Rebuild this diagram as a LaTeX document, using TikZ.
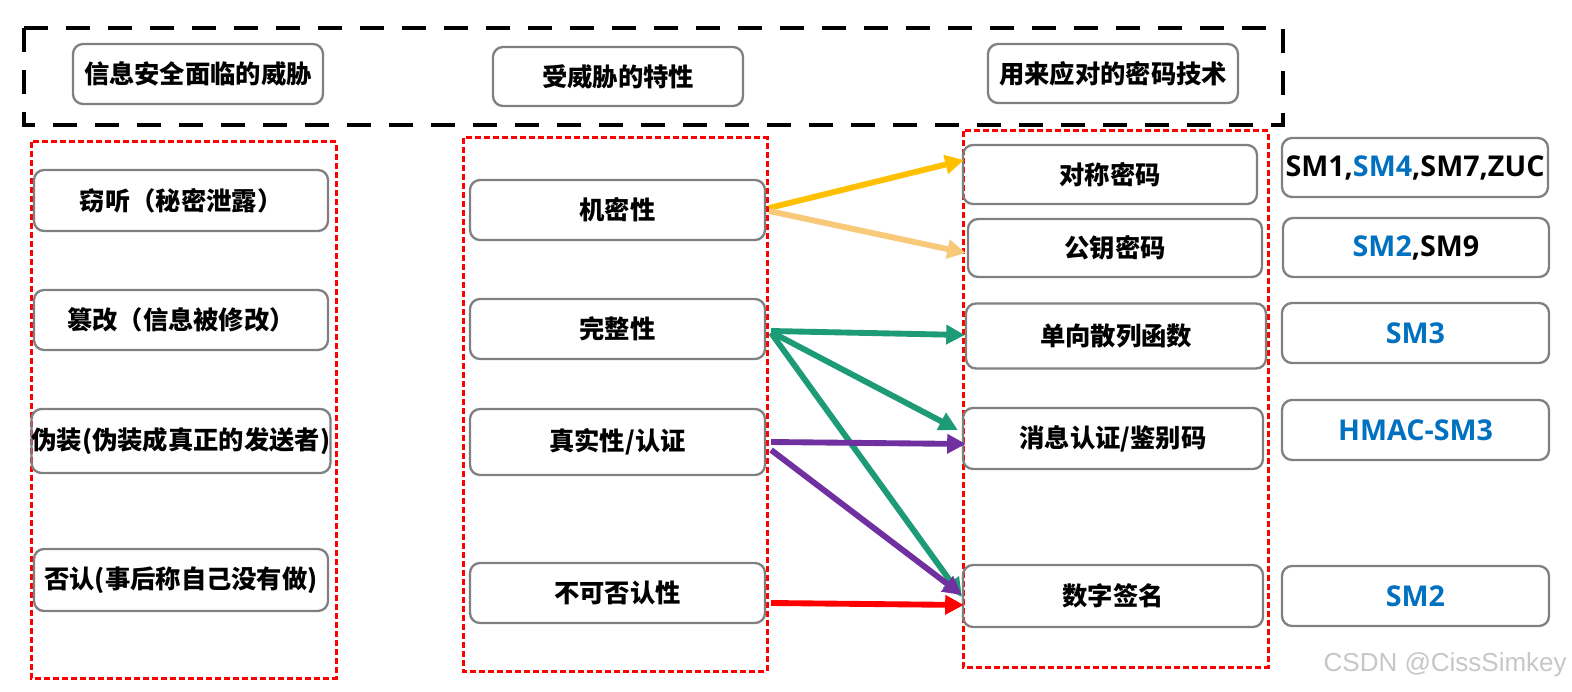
\documentclass[tikz,border=0pt]{standalone}
\usepackage{fontspec}
\setmainfont{Noto Sans CJK SC}
\newfontfamily\smfont{Open Sans}
\newfontfamily\wmfont{Liberation Sans}
\usetikzlibrary{arrows.meta,calc}
\definecolor{boxgray}{HTML}{808080}
\definecolor{smblue}{HTML}{0070C0}
\definecolor{arryellow}{HTML}{FFC000}
\definecolor{arrorange}{HTML}{F9C97A}
\definecolor{arrgreen}{HTML}{1D9B76}
\definecolor{arrpurple}{HTML}{7030A0}
\definecolor{arrred}{HTML}{FF0000}
\newlength\pxu
\setlength\pxu{0.75pt}
\tikzset{
  rbox/.style={draw=boxgray, line width=2.3\pxu, rounded corners=10\pxu, inner sep=0pt,
    font=\fontsize{19}{21}\selectfont\bfseries, text=black},
  smbox/.style={rbox, font=\smfont\fontsize{21.5}{24}\selectfont\bfseries},
  reddash/.style={draw=red, line width=3\pxu, dash pattern=on 6\pxu off 3\pxu},
  blackdash/.style={draw=black, line width=4.5\pxu, dash pattern=on 24\pxu off 18\pxu},
  arr/.style={line width=4.4pt, -{Triangle[length=14pt,width=14pt]}},
}
\begin{document}
\begin{tikzpicture}[x=0.75pt,y=-0.75pt]
\useasboundingbox (0,0) rectangle (1572,692);
\fill[white] (0,0) rectangle (1572,692);

% header dashed frame
\draw[blackdash] (24,28) rectangle (1283,125);

% red dashed columns
\draw[reddash] (31,142) rectangle (336,678);
\draw[reddash] (463,138) rectangle (767,671);
\draw[reddash] (963,131) rectangle (1268,667);

% headers
\node[rbox, minimum width=250\pxu, minimum height=60\pxu] (H1) at (198,74) {信息安全面临的威胁};
\node[rbox, minimum width=250\pxu, minimum height=59\pxu] (H2) at (618,76.5) {受威胁的特性};
\node[rbox, minimum width=250\pxu, minimum height=59\pxu] (H3) at (1113,73.5) {用来应对的密码技术};

% threats
\node[rbox, minimum width=294\pxu, minimum height=61\pxu] (L1) at (181,200.5) {窃听（秘密泄露）};
\node[rbox, minimum width=294\pxu, minimum height=60\pxu] (L2) at (181,320) {篡改（信息被修改）};
\node[rbox, minimum width=294\pxu, minimum height=64\pxu] (L3) at (181,441) {伪装(伪装成真正的发送者)};
\node[rbox, minimum width=294\pxu, minimum height=62\pxu] (L4) at (181,580) {否认(事后称自己没有做)};

% properties
\node[rbox, minimum width=295\pxu, minimum height=60\pxu] (M1) at (617.5,210) {机密性};
\node[rbox, minimum width=295\pxu, minimum height=60\pxu] (M2) at (617.5,329) {完整性};
\node[rbox, minimum width=295\pxu, minimum height=66\pxu] (M3) at (617.5,442) {真实性/认证};
\node[rbox, minimum width=295\pxu, minimum height=60\pxu] (M4) at (617.5,593) {不可否认性};

% techniques
\node[rbox, minimum width=294\pxu, minimum height=59\pxu] (T1) at (1110,174.5) {对称密码};
\node[rbox, minimum width=294\pxu, minimum height=58\pxu] (T2) at (1115,248) {公钥密码};
\node[rbox, minimum width=300\pxu, minimum height=65\pxu] (T3) at (1116,336) {单向散列函数};
\node[rbox, minimum width=300\pxu, minimum height=61\pxu] (T4) at (1113,438.5) {消息认证/鉴别码};
\node[rbox, minimum width=300\pxu, minimum height=62\pxu] (T5) at (1113,596) {数字签名};

% algorithms
\node[smbox, minimum width=266\pxu, minimum height=59\pxu] (S1) at (1415,167.5) {SM1,\textcolor{smblue}{SM4},SM7,ZUC};
\node[smbox, minimum width=266\pxu, minimum height=59\pxu] (S2) at (1416,247.5) {\textcolor{smblue}{SM2},SM9};
\node[smbox, minimum width=267\pxu, minimum height=60\pxu, text=smblue] (S3) at (1415.5,333) {SM3};
\node[smbox, minimum width=267\pxu, minimum height=60\pxu, text=smblue] (S4) at (1415.5,430) {HMAC-SM3};
\node[smbox, minimum width=267\pxu, minimum height=60\pxu, text=smblue] (S5) at (1415.5,596) {SM2};

% arrows
\draw[arr, arryellow] ($(M1.east)+(3,-2)$) -- ($(T1.west)+(2,-14.5)$);
\draw[arr, arrorange] ($(M1.east)+(3,1)$) -- ($(T2.west)+(-1,5)$);
\draw[arr, arrgreen] ($(M2.east)+(5,2)$) -- ($(T3.west)+(0,-1)$);
\draw[arr, arrgreen] ($(M2.east)+(5,3)$) -- ($(T4.west)+(-4,-8.5)$);
\draw[arr, arrgreen] ($(M2.east)+(5,4)$) -- ($(T5.west)+(0,1)$);
\draw[arr, arrpurple] ($(M3.east)+(5,0)$) -- ($(T4.west)+(4,5.5)$);
\draw[arr, arrpurple] ($(M3.east)+(5,8)$) -- ($(T5.west)+(0,-1)$);
\draw[arr, arrred] ($(M4.east)+(5,10)$) -- ($(T5.west)+(2,9)$);

% watermark
\node[anchor=east, inner sep=0pt, text=black!22, font=\wmfont\fontsize{19.5}{20}\selectfont] (wm) at (1567,665) {CSDN @CissSimkey};
\end{tikzpicture}
\end{document}
